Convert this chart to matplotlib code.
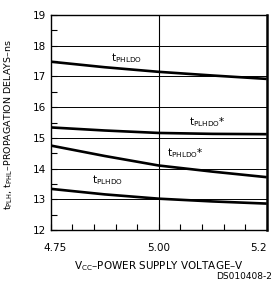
import matplotlib
matplotlib.use("Agg")
import matplotlib.pyplot as plt
from matplotlib.ticker import MultipleLocator
import matplotlib.transforms as mtransforms

vcc = [4.75, 4.875, 5.00, 5.125, 5.25]
t_phl_do = [17.48, 17.30, 17.15, 17.03, 16.92]
t_plh_do_star = [15.34, 15.24, 15.16, 15.13, 15.12]
t_phl_do_star = [14.75, 14.41, 14.10, 13.90, 13.72]
t_plh_do = [13.34, 13.16, 13.02, 12.93, 12.86]

curve_labels = [r"$\mathregular{t_{PHLDO}}$", r"$\mathregular{t_{PLHDO}}$*",
                r"$\mathregular{t_{PHLDO}}$*", r"$\mathregular{t_{PLHDO}}$"]
label_pos = [(4.89, 17.6), (5.07, 15.5), (5.02, 14.52), (4.845, 13.61)]

yticks = [12, 13, 14, 15, 16, 17, 18, 19]
xticks = [4.75, 5.00, 5.25]
xticklabels = ["4.75", "5.00", "5.2"]

plt.rcParams['font.family'] = ['DejaVu Sans']
fig = plt.figure(figsize=(2.73, 2.92), dpi=100)
ax = fig.add_axes([0.1857, 0.2123, 0.977 - 0.1857, 0.9486 - 0.2123])

for y in [13, 14, 15, 16, 17, 18]:
    ax.axhline(y, color='black', lw=0.7, zorder=1)
ax.axvline(5.00, color='black', lw=0.8, zorder=1)

for s in [t_phl_do, t_plh_do_star, t_phl_do_star, t_plh_do]:
    ax.plot(vcc, s, color='black', lw=1.9, solid_capstyle='butt', zorder=3)

for lab, (x, y) in zip(curve_labels, label_pos):
    ax.text(x, y, lab, fontsize=7.5, ha='left', va='center', zorder=4)

ax.set_xlim(4.75, 5.25)
ax.set_ylim(12, 19)
ax.set_xticks(xticks)
ax.set_xticklabels(xticklabels)
ax.set_yticks(yticks)
ax.xaxis.set_minor_locator(MultipleLocator(0.05))
ax.yaxis.set_minor_locator(MultipleLocator(0.5))
ax.tick_params(axis='both', which='both', direction='in', labelsize=7.5,
               top=False, right=False, color='black')
ax.tick_params(axis='y', which='major', length=4, width=0.8, pad=3)
ax.tick_params(axis='x', which='major', length=4, width=0.8, pad=9)
ax.tick_params(axis='both', which='minor', length=4, width=0.8)
lbls = ax.get_xticklabels()
shift = mtransforms.ScaledTranslation(4 / 100, 0, fig.dpi_scale_trans)
lbls[0].set_transform(lbls[0].get_transform() + shift)
lbls[-1].set_ha('right')
for sp in ['left', 'bottom', 'top']:
    ax.spines[sp].set_linewidth(1.0)
ax.spines['right'].set_linewidth(1.8)

ax.set_xlabel(r"V$_{\mathregular{CC}}$–POWER SUPPLY VOLTAGE–V", fontsize=7.5, labelpad=8)
ax.set_ylabel(r"t$_{\mathregular{PLH}}$, t$_{\mathregular{PHL}}$–PROPAGATION DELAYS–ns",
              fontsize=6.8, labelpad=6)
ax.yaxis.set_label_coords(-0.165, 0.49)
ax.xaxis.set_label_coords(0.5, -0.135)
fig.text(0.995, 0.052, "DS010408-2", fontsize=6.5, ha='right', va='center')

fig.savefig("out.png", dpi=100)
